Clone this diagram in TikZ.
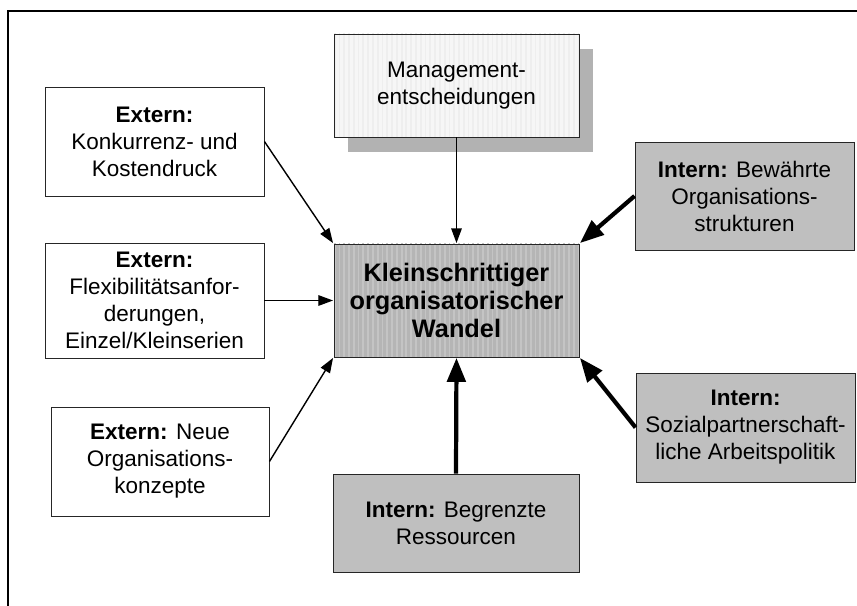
\documentclass[tikz,border=0pt]{standalone}
\usepackage{fontspec}
\setmainfont{Liberation Sans}
\usetikzlibrary{arrows.meta, patterns.meta}

\tikzset{
  box/.style={draw=black!85, line width=0.6pt, align=center, inner sep=2pt,
    font=\fontsize{16pt}{19.2pt}\selectfont},
  extbox/.style={box, fill=white},
  intbox/.style={box, fill=gray!50},
  stripes/.style 2 args={preaction={fill=#1},
    pattern={Lines[angle=90,distance=3.4pt,line width=1.3pt]}, pattern color=#2},
  thinarrow/.style={-{Triangle[length=10.5pt,width=7.5pt]}, line width=1pt},
  thickarrow/.style={-{Triangle[length=17pt,width=13pt]}, line width=3pt},
}

\begin{document}
\begin{tikzpicture}[x=0.025cm, y=-0.025cm]
    \useasboundingbox (0,0) rectangle (857,606);
    % frame
    \draw[line width=1.4pt] (8,606) -- (8,11) -- (857,11);

    % centre
    \node[box, stripes={gray!58}{gray!46}, font=\fontsize{18pt}{19.6pt}\selectfont\bfseries,
      minimum width=6.125cm, minimum height=2.825cm] (wandel) at (456.5,300.5)
      {Kleinschrittiger\\organisatorischer\\Wandel};

    % top, with its shadow
    \node[fill=gray!60, inner sep=0pt, minimum width=6.125cm, minimum height=2.575cm]
      (mgmtshadow) at (470.5,100.5) {};
    \node[box, stripes={gray!7}{gray!13},
      minimum width=6.125cm, minimum height=2.575cm] (mgmt) at (456.5,85.5)
      {Management-\\entscheidungen};

    % external factors
    \node[extbox, minimum width=5.475cm, minimum height=2.725cm] (ext1) at (154.5,141.5)
      {\textbf{Extern:}\\Konkurrenz- und\\Kostendruck};
    \node[extbox, minimum width=5.475cm, minimum height=2.875cm] (ext2) at (154.5,300.5)
      {\textbf{Extern:}\\Flexibilitätsanfor-\\derungen,\\Einzel/Kleinserien};
    \node[extbox, minimum width=5.45cm, minimum height=2.725cm] (ext3) at (160,461.5)
      {\textbf{Extern:} Neue\\Organisations-\\konzepte};

    % internal factors
    \node[intbox, minimum width=5.475cm, minimum height=2.7cm] (int1) at (744.5,196)
      {\textbf{Intern:} Bewährte\\Organisations-\\strukturen};
    \node[intbox, minimum width=5.475cm, minimum height=2.725cm] (int2) at (745.5,427.5)
      {\textbf{Intern:}\\Sozialpartnerschaft-\\liche Arbeitspolitik};
    \node[intbox, minimum width=6.15cm, minimum height=2.45cm] (int3) at (456,523)
      {\textbf{Intern:} Begrenzte\\Ressourcen};

    \draw[thinarrow] (mgmt.south) -- (wandel.north);
    \draw[thinarrow] (ext1.east) -- (wandel.north west);
    \draw[thinarrow] (ext2.east) -- (wandel.west);
    \draw[thinarrow] (ext3.east) -- (wandel.south west);

    \draw[thickarrow] (int1.west) -- (wandel.north east);
    \draw[thickarrow] (int2.west) -- (wandel.south east);
    \draw[thickarrow] (int3.north) -- (wandel.south);
\end{tikzpicture}
\end{document}
